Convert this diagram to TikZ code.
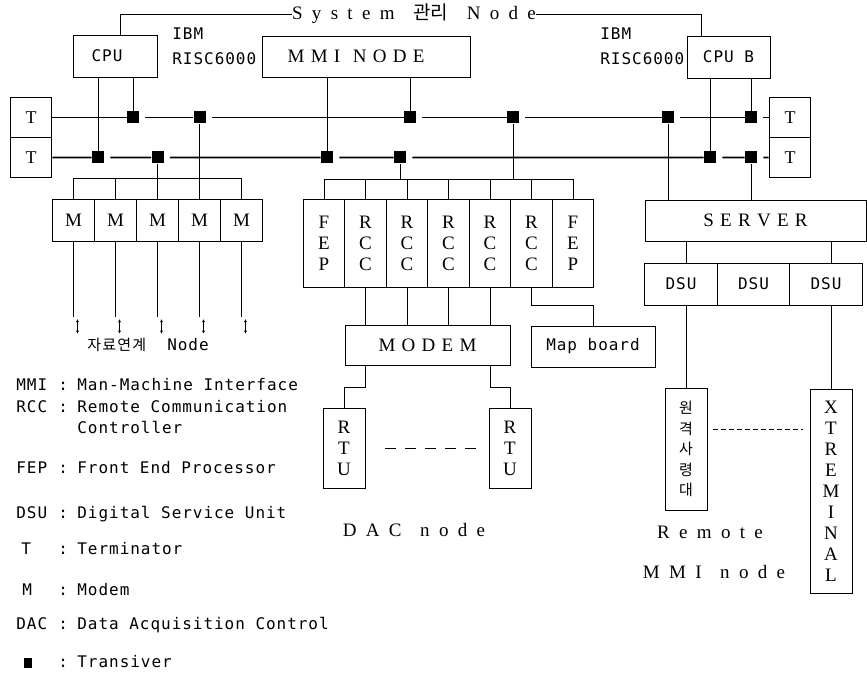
\documentclass[tikz,border=0pt]{standalone}
\usepackage{fontspec}
\setmainfont{Liberation Serif}
\newfontfamily\monof[LetterSpace=6]{DejaVu Sans Mono}
\newfontfamily\spacef[LetterSpace=8]{Liberation Serif}
\newfontfamily\spacew[LetterSpace=24]{Liberation Serif}
\newfontfamily\cjk{Noto Sans CJK KR}
\newfontfamily\cjksp[LetterSpace=8]{Noto Sans CJK KR}
\usetikzlibrary{positioning,arrows.meta}

\begin{document}
\begin{tikzpicture}[x=1pt,y=-1pt,line width=.8pt,
  box/.style={draw,inner sep=0pt,align=center,font=\fontsize{19}{21}\selectfont},
  tbox/.style={draw,line width=1.8pt,minimum width=41pt,minimum height=40pt,inner sep=0pt,font=\fontsize{18}{21}\selectfont},
  mbox/.style={box,minimum width=42pt,minimum height=42pt},
  colbox/.style={box,minimum width=41.5pt,minimum height=88pt},
  dsubox/.style={box,mono,minimum width=72.5pt,minimum height=42pt},
  trx/.style={fill=black,minimum size=12pt,inner sep=0pt},
  mono/.style={inner sep=0pt,font=\fontsize{16}{25}\monof},
  spc/.style={inner sep=0pt,font=\fontsize{19}{21}\spacef},
  spw/.style={inner sep=0pt,font=\fontsize{19}{21}\spacew},
  lg/.style={mono,anchor=west},
  bus/.style={line width=1.8pt}]
\useasboundingbox (0,0) rectangle (867,684);

% hosts
\node[box,mono,minimum width=84pt,minimum height=42pt] (cpu) at (115,56) {CPU\hspace{16pt}};
\node[mono,align=left,anchor=west] (ibm1) at (172,46) {IBM\\RISC6000};
\node[box,spc,minimum width=208pt,minimum height=41pt] (mmi) at (366,56.5) {M M I \ N O D E\hspace{20pt}};
\node[mono,align=left,anchor=west] (ibm2) at (600,46) {IBM\\RISC6000};
\node[box,mono,minimum width=83pt,minimum height=42pt] (cpub) at (728.5,57) {CPU B};
\node[spw] (sys) at (414,14) {S y s t e m \ {\cjk 관리} \ N o d e};
\draw (sys.west) -| ([xshift=5pt]cpu.north);\draw (sys.east) -| ([xshift=-27pt]cpub.north);

% terminators and transceivers
\node[tbox] (tl1) at (31,117.5) {T};
\node[tbox,below=-1.8pt of tl1] (tl2) {T};
\node[tbox] (tr1) at (790,117.5) {T};
\node[tbox,below=-1.8pt of tr1] (tr2) {T};
\node[trx] (u1) at (133,117.5) {};\node[trx] (u2) at (199.5,117.5) {};\node[trx] (u3) at (410,117.5) {};
\node[trx] (u4) at (513,117.5) {};\node[trx] (u5) at (668,117.5) {};\node[trx] (u6) at (751,117.5) {};
\node[trx] (l1) at (98,157.5) {};\node[trx] (l2) at (157.5,157.5) {};\node[trx] (l3) at (327,157.5) {};
\node[trx] (l4) at (400,157.5) {};\node[trx] (l5) at (710,157.5) {};\node[trx] (l6) at (751,157.5) {};
\draw[bus] (tl1.east)--(u1.west) ([xshift=6pt]u1.east)--(u2.west) ([xshift=6pt]u2.east)--(u3.west) ([xshift=6pt]u3.east)--(u4.west) ([xshift=6pt]u4.east)--(u5.west) ([xshift=6pt]u5.east)--(u6.west) ([xshift=6pt]u6.east)--(tr1.west);
\draw[bus] (tl2.east)--(l1.west) ([xshift=6pt]l1.east)--(l2.west) ([xshift=6pt]l2.east)--(l3.west) ([xshift=6pt]l3.east)--(l4.west) ([xshift=6pt]l4.east)--(l5.west) ([xshift=6pt]l5.east)--(l6.west) ([xshift=6pt]l6.east)--(tr2.west);
\draw (cpu.south -| l1)--(l1.north);\draw (cpu.south -| u1)--(u1.north);
\draw (mmi.south -| l3)--(l3.north);\draw (mmi.south -| u3)--(u3.north);
\draw (cpub.south -| l5)--(l5.north);\draw (cpub.south -| u6)--(u6.north);

% modems to the data link node
\node[mbox] (m1) at (73.5,220) {M};
\node[mbox,right=-.8pt of m1] (m2) {M};
\node[mbox,right=-.8pt of m2] (m3) {M};
\node[mbox,right=-.8pt of m3] (m4) {M};
\node[mbox,right=-.8pt of m4] (m5) {M};
\draw (m1.north) -- ++(0,-20) coordinate (mbus) -| (m5.north);\draw (m2.north) -- ++(0,-20);
\draw (l2.south) -- (l2.south |- m3.north);\draw (u2.south) -- (u2.south |- m4.north);
\draw (m1.south) -- ++(0,76) coordinate (e1);\draw (m2.south) -- ++(0,76) coordinate (e2);
\draw (m3.south) -- ++(0,76) coordinate (e3);\draw (m4.south) -- ++(0,76) coordinate (e4);
\draw (m5.south) -- ++(0,76) coordinate (e5);
\draw[<->,>={Stealth[length=3pt,width=3pt]},line width=.6pt] ([xshift=4pt,yshift=-2pt]e1) -- ++(0,14);
\draw[<->,>={Stealth[length=3pt,width=3pt]},line width=.6pt] ([xshift=4pt,yshift=-2pt]e2) -- ++(0,14);
\draw[<->,>={Stealth[length=3pt,width=3pt]},line width=.6pt] ([xshift=4pt,yshift=-2pt]e3) -- ++(0,14);
\draw[<->,>={Stealth[length=3pt,width=3pt]},line width=.6pt] ([xshift=4pt,yshift=-2pt]e4) -- ++(0,14);
\draw[<->,>={Stealth[length=3pt,width=3pt]},line width=.6pt] ([xshift=4pt,yshift=-2pt]e5) -- ++(0,14);
\node[mono] (link) at (148,345) {{\fontsize{15}{16}\cjksp 자료연계}\ \ Node};

% DAC node
\node[colbox] (fep1) at (324,243) {F\\E\\P};
\node[colbox,right=-.8pt of fep1] (rcc1) {R\\C\\C};
\node[colbox,right=-.8pt of rcc1] (rcc2) {R\\C\\C};
\node[colbox,right=-.8pt of rcc2] (rcc3) {R\\C\\C};
\node[colbox,right=-.8pt of rcc3] (rcc4) {R\\C\\C};
\node[colbox,right=-.8pt of rcc4] (rcc5) {R\\C\\C};
\node[colbox,right=-.8pt of rcc5] (fep2) {F\\E\\P};
\draw (fep1.north) -- ++(0,-19) coordinate (fbus) -| (fep2.north);
\draw (rcc1.north) -- ++(0,-19);\draw (rcc2.north) -- ++(0,-19);\draw (rcc3.north) -- ++(0,-19);
\draw (rcc4.north) -- ++(0,-19);\draw (rcc5.north) -- ++(0,-19);
\draw (l4.south) -- (l4 |- fbus);\draw (u4.south) -- (u4 |- fbus);
\node[box,spc,minimum width=165pt,minimum height=40pt] (modem) at (427.5,345) {M O D E M};
\node[box,mono,minimum width=124pt,minimum height=41pt] (map) at (593,346.5) {Map board};
\draw (rcc1.south) -- (rcc1.south |- modem.north);\draw (rcc2.south) -- (rcc2.south |- modem.north);
\draw (rcc3.south) -- (rcc3.south |- modem.north);\draw (rcc4.south) -- (rcc4.south |- modem.north);
\draw (rcc5.south) -- ++(0,18) -| (map.north);
\node[box,minimum width=42pt,minimum height=80pt] (rtu1) at (344,448) {R\\T\\U};
\node[box,minimum width=42pt,minimum height=80pt] (rtu2) at (510,448) {R\\T\\U};
\draw (modem.south -| rcc1) -- ++(0,22) -| (rtu1.north);\draw (modem.south -| rcc4) -- ++(0,22) -| (rtu2.north);
\draw[dash pattern=on 11pt off 9pt] ([xshift=20pt]rtu1.east) -- ([xshift=-11pt]rtu2.west);
\node[spw] (dac) at (414,530) {D A C \ n o d e};

% remote MMI node
\node[box,spc,minimum width=221pt,minimum height=41pt] (server) at (755.5,220.5) {S E R V E R};
\draw (u5.south) -- (u5 |- server.north);\draw (l6.south) -- (l6 |- server.north);
\node[dsubox] (dsu1) at (681,284) {DSU};
\node[dsubox,right=-.8pt of dsu1] (dsu2) {DSU};
\node[dsubox,right=-.8pt of dsu2] (dsu3) {DSU};
\node[box,minimum width=42pt,minimum height=122pt,font=\fontsize{15}{20.5}\cjk] (won) at (686,449) {원\\격\\사\\령\\대};
\node[box,minimum width=42pt,minimum height=204pt] (xt) at (831,491) {X\\T\\R\\E\\M\\I\\N\\A\\L};
\draw (server.south -| won) -- (dsu1.north -| won);\draw (server.south -| xt) -- (dsu3.north -| xt);
\draw (dsu1.south -| won) -- (won.north);\draw (dsu3.south -| xt) -- (xt.north);
\draw[dash pattern=on 5pt off 3pt] ([xshift=6pt,yshift=20pt]won.east) coordinate (dw) -- ([xshift=-7pt]dw -| xt.west);
\node[spw] (rem) at (710,532) {R e m o t e};
\node[spw] (rmmi) at (714,572) {M M I \ n o d e};

% legend
\node[lg] (lmmi) at (16,385) {\makebox[42pt][l]{MMI}\makebox[19pt][l]{:}Man-Machine Interface};
\node[lg] (lrcc) at (16,407) {\makebox[42pt][l]{RCC}\makebox[19pt][l]{:}Remote Communication};
\node[lg] (lrcc2) at (77,427) {Controller};
\node[lg] (lfep) at (16,468) {\makebox[42pt][l]{FEP}\makebox[19pt][l]{:}Front End Processor};
\node[lg] (ldsu) at (16,514) {\makebox[42pt][l]{DSU}\makebox[19pt][l]{:}Digital Service Unit};
\node[lg] (lt) at (16,549) {\makebox[42pt][l]{\hspace{5pt}T}\makebox[19pt][l]{:}Terminator};
\node[lg] (lm) at (16,590) {\makebox[42pt][l]{\hspace{6pt}M}\makebox[19pt][l]{:}Modem};
\node[lg] (ldac) at (16,625) {\makebox[42pt][l]{DAC}\makebox[19pt][l]{:}Data Acquisition Control};
\node[lg] (ltrx) at (16,662) {\makebox[42pt][l]{\hspace{8pt}\rule{8pt}{10pt}}\makebox[19pt][l]{:}Transiver};
\end{tikzpicture}
\end{document}
